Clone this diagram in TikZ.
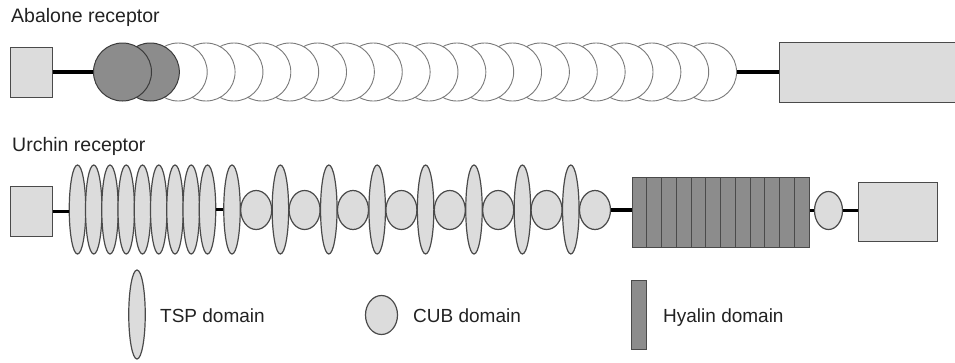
\documentclass[tikz,border=0pt]{standalone}
\usepackage{fontspec}
\setmainfont{Liberation Sans}
\usetikzlibrary{shapes.geometric}
\definecolor{lightfill}{HTML}{DCDCDC}
\definecolor{darkfill}{HTML}{8C8C8C}
\definecolor{edgec}{HTML}{4A4A4A}
\definecolor{paleedge}{HTML}{7A7A7A}
\definecolor{txt}{HTML}{222222}
\begin{document}
\begin{tikzpicture}[x=1pt,y=-1pt,
  lbl/.style={anchor=base west, inner sep=0pt, text=txt, font=\fontsize{19.5}{22}\selectfont},
  legtxt/.style={anchor=base west, inner sep=0pt, text=txt, font=\fontsize{19}{22}\selectfont},
  endbox/.style={rectangle, draw=edgec, line width=1pt, fill=lightfill, inner sep=0pt},
  abdark/.style={circle, draw=edgec!80!black, line width=1pt, fill=darkfill, inner sep=0pt, minimum size=58pt},
  abwhite/.style={circle, draw=paleedge, line width=0.9pt, fill=white, inner sep=0pt, minimum size=58pt},
  tsp/.style={ellipse, draw=edgec, line width=1.2pt, fill=lightfill, inner sep=0pt, minimum width=16.5pt, minimum height=89pt},
  cub/.style={ellipse, draw=edgec, line width=1.2pt, fill=lightfill, inner sep=0pt, minimum width=31pt, minimum height=39pt},
  hyal/.style={rectangle, draw=edgec, line width=1pt, fill=darkfill, inner sep=0pt},
  linker/.style={line width=3.5pt, black},
  stripe/.style={draw=edgec, line width=0.9pt}
]
\useasboundingbox (0,0) rectangle (955,362);

% ---------- Abalone receptor ----------
\node[lbl] (tA) at (11,22) {Abalone receptor};
\node[endbox, minimum width=42pt, minimum height=50pt] (sqA) at (31,72) {};
\node[endbox, minimum width=180pt, minimum height=60pt, anchor=west] (rectA) at (779,72) {};
\foreach \i in {21,20,...,0} {
  \pgfmathsetmacro\cx{122.5+27.86*\i}
  \ifnum\i<2
    \node[abdark] (a\i) at (\cx,72) {};
  \else
    \node[abwhite] (a\i) at (\cx,72) {};
  \fi
}
\draw[linker] (sqA.east) -- (a0.west);
\draw[linker] (a21.east) -- (rectA.west);

% ---------- Urchin receptor ----------
\node[lbl] (tU) at (12,151) {Urchin receptor};
\node[endbox, minimum width=42pt, minimum height=50pt] (sqU) at (31,211.5) {};
\foreach \j in {0,...,8} {
  \pgfmathsetmacro\cx{77.5+16.25*\j}
  \node[tsp] (t\j) at (\cx,209.5) {};
}
\foreach \k in {0,...,7} {
  \pgfmathsetmacro\ex{232+48.4*\k}
  \pgfmathsetmacro\ccx{256.2+48.4*\k}
  \node[tsp] (e\k) at (\ex,209.5) {};
  \node[cub] (c\k) at (\ccx,210) {};
}
\node[hyal, minimum width=177pt, minimum height=70pt] (hy) at (720.5,212) {};
\foreach \m in {1,...,11} {
  \pgfmathsetmacro\sx{632+14.75*\m}
  \draw[stripe] (\sx,177) -- (\sx,247);
}
\node[cub, minimum width=28pt, minimum height=38pt] (sc) at (828.5,210.5) {};
\node[endbox, minimum width=79pt, minimum height=59pt] (rectU) at (897.5,211.5) {};
\draw[linker] (sqU.east) -- (sqU.east -| t0.west);
\draw[linker] (t8.east) -- (e0.west);
\draw[linker] (c7.east) -- (hy.west |- c7.east);
\draw[linker] (hy.east |- sc.west) -- (sc.west);
\draw[linker] (sc.east) -- (rectU.west |- sc.east);

% ---------- Legend ----------
\node[tsp] (lt) at (137,314.5) {};
\node[legtxt] (ltt) at (160,322) {TSP domain};
\node[cub, minimum width=32pt, minimum height=39pt] (lc) at (381.5,315) {};
\node[legtxt] (lct) at (413,322) {CUB domain};
\node[hyal, minimum width=15pt, minimum height=69pt] (lh) at (639,315) {};
\node[legtxt] (lht) at (663,322.5) {Hyalin domain};
\end{tikzpicture}
\end{document}
